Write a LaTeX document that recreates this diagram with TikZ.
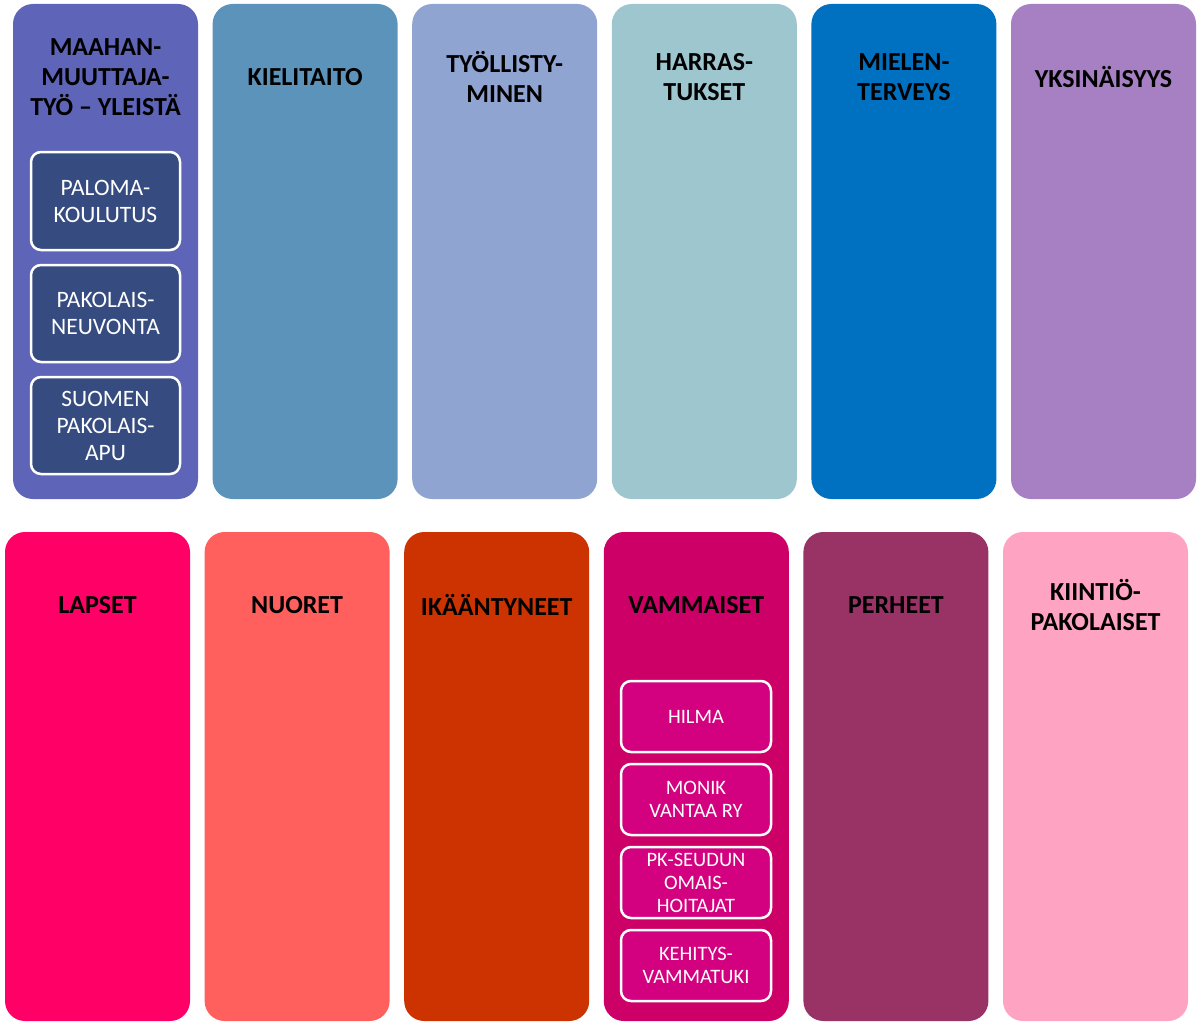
\documentclass[tikz,border=0pt]{standalone}
\usepackage{fontspec}
\setmainfont{Carlito}
\usetikzlibrary{positioning}

\definecolor{cMaahan}{HTML}{5E65B8}
\definecolor{cKieli}{HTML}{5B93BA}
\definecolor{cTyo}{HTML}{8FA4D0}
\definecolor{cHarras}{HTML}{9EC6CE}
\definecolor{cMieli}{HTML}{0070C0}
\definecolor{cYksin}{HTML}{A680C3}
\definecolor{cLapset}{HTML}{FF0066}
\definecolor{cNuoret}{HTML}{FF5F5D}
\definecolor{cIka}{HTML}{CC3300}
\definecolor{cVamma}{HTML}{CC0066}
\definecolor{cPerhe}{HTML}{993366}
\definecolor{cKiintio}{HTML}{FFA3C2}
\definecolor{cSubBlue}{HTML}{364C80}
\definecolor{cSubPink}{HTML}{D3007F}

\begin{document}
\begin{tikzpicture}[x=1pt,y=1pt,node distance=14.6pt,
	col/.style={rectangle,rounded corners=20pt,minimum width=185pt,inner sep=0pt,outer sep=0pt},
	top col/.style={col,minimum height=495pt},
	low col/.style={col,minimum height=489pt},
	head/.style={font=\fontsize{26}{30}\selectfont\bfseries,align=center,text=black},
	sub box/.style={rectangle,rounded corners=10pt,draw=white,line width=2.5pt,
		inner sep=0pt,outer sep=0pt,text=white,align=center},
	blue sub/.style={sub box,fill=cSubBlue,minimum width=149pt,minimum height=97pt,
		font=\fontsize{23.5}{27}\selectfont},
	pink sub/.style={sub box,fill=cSubPink,minimum width=150pt,minimum height=71pt,
		font=\fontsize{20.5}{23}\selectfont}]
	
	\useasboundingbox (0,0) rectangle (1201,-1022);
	
	% top row
	\node[top col,fill=cMaahan] (maahan) at (105.5,-251.5) {};
	\node[top col,fill=cKieli,right=of maahan] (kieli) {};
	\node[top col,fill=cTyo,right=of kieli] (tyo) {};
	\node[top col,fill=cHarras,right=of tyo] (harras) {};
	\node[top col,fill=cMieli,right=of harras] (mieli) {};
	\node[top col,fill=cYksin,right=of mieli] (yksin) {};
	
	% bottom row
	\node[low col,fill=cLapset] (lapset) at (97.5,-776.5) {};
	\node[low col,fill=cNuoret,right=of lapset] (nuoret) {};
	\node[low col,fill=cIka,right=of nuoret] (ika) {};
	\node[low col,fill=cVamma,right=of ika] (vamma) {};
	\node[low col,fill=cPerhe,right=of vamma] (perhe) {};
	\node[low col,fill=cKiintio,right=of perhe] (kiintio) {};
	
	% headings
	\node[head] (maahanT) at ([yshift=-73pt]maahan.north) {MAAHAN-\\MUUTTAJA-\\TYÖ – YLEISTÄ};
	\node[head] (kieliT) at ([yshift=-73pt]kieli.north) {KIELITAITO};
	\node[head] (tyoT) at ([yshift=-73pt]tyo.north) {TYÖLLISTY-\\MINEN};
	\node[head] (harrasT) at ([yshift=-73pt]harras.north) {HARRAS-\\TUKSET};
	\node[head] (mieliT) at ([yshift=-73pt]mieli.north) {MIELEN-\\TERVEYS};
	\node[head] (yksinT) at ([yshift=-73pt]yksin.north) {YKSINÄISYYS};
	\node[head] (lapsetT) at ([yshift=-73pt]lapset.north) {LAPSET};
	\node[head] (nuoretT) at ([yshift=-73pt]nuoret.north) {NUORET};
	\node[head] (ikaT) at ([yshift=-73pt]ika.north) {IKÄÄNTYNEET};
	\node[head] (vammaT) at ([yshift=-73pt]vamma.north) {VAMMAISET};
	\node[head] (perheT) at ([yshift=-73pt]perhe.north) {PERHEET};
	\node[head] (kiintioT) at ([yshift=-73pt]kiintio.north) {KIINTIÖ-\\PAKOLAISET};
	
	% sub boxes
	\node[blue sub,minimum height=98pt] (paloma) at (105.5,-201) {PALOMA-\\KOULUTUS};
	\node[blue sub,below=15pt of paloma] (neuvonta) {PAKOLAIS-\\NEUVONTA};
	\node[blue sub,below=15pt of neuvonta] (apu) {SUOMEN\\PAKOLAIS-\\APU};
	
	\node[pink sub] (hilma) at (696,-716.5) {HILMA};
	\node[pink sub,below=12pt of hilma] (monik) {MONIK\\VANTAA RY};
	\node[pink sub,below=12pt of monik] (omais) {PK-SEUDUN\\OMAIS-\\HOITAJAT};
	\node[pink sub,below=12pt of omais] (kehitys) {KEHITYS-\\VAMMATUKI};
\end{tikzpicture}
\end{document}
